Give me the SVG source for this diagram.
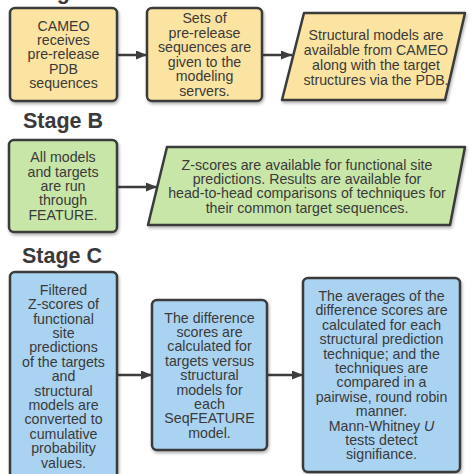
<svg xmlns="http://www.w3.org/2000/svg" width="474" height="474" viewBox="0 0 474 474">
<defs>
<filter id="sh" x="-10%" y="-10%" width="130%" height="130%">
<feDropShadow dx="1" dy="2" stdDeviation="1.5" flood-color="#000" flood-opacity="0.3"/>
</filter>
<marker id="arr" markerUnits="userSpaceOnUse" markerWidth="11" markerHeight="9" refX="11" refY="4.5" orient="auto">
<path d="M0,0 L11,4.5 L0,9 z" fill="#3d3d3d"/>
</marker>
<style>
.box{stroke:#3b3b3b;stroke-width:2.5;stroke-linejoin:round;filter:url(#sh)}
.y{fill:#fbe3a1}
.g{fill:#c8e6a8}
.b{fill:#aad3f1}
.t{font-family:"Liberation Sans",Arial,sans-serif;font-size:14.2px;fill:#3a3a3a;text-anchor:middle}
.h{font-family:"Liberation Sans",Arial,sans-serif;font-size:21.5px;font-weight:bold;fill:#3a3a3a;text-anchor:middle}
.c{stroke:#3d3d3d;stroke-width:2.5;fill:none}
</style>
</defs>
<rect width="474" height="474" fill="#ffffff"/>

<text class="h" x="63" y="-1.5">Stage A</text>
<text class="h" x="63" y="128">Stage B</text>
<text class="h" x="62" y="263">Stage C</text>

<g id="connectors">
<line class="c" x1="117" y1="55" x2="147" y2="55" marker-end="url(#arr)"/>
<line class="c" x1="262" y1="55" x2="292" y2="55" marker-end="url(#arr)"/>
<line class="c" x1="117" y1="187" x2="157" y2="187" marker-end="url(#arr)"/>
<line class="c" x1="117" y1="375" x2="152" y2="375" marker-end="url(#arr)"/>
<line class="c" x1="267" y1="375" x2="303" y2="375" marker-end="url(#arr)"/>
</g>

<g id="a1">
<rect class="box y" x="10" y="8" width="107" height="93" rx="5"/>
<text class="t"><tspan x="63.5" y="30.5">CAMEO</tspan><tspan x="63.5" y="44.9">receives</tspan><tspan x="63.5" y="59.3">pre-release</tspan><tspan x="63.5" y="73.7">PDB</tspan><tspan x="63.5" y="88.1">sequences</tspan></text>
</g>

<g id="a2">
<rect class="box y" x="147" y="8" width="115" height="93" rx="5"/>
<text class="t"><tspan x="204.5" y="23">Sets of</tspan><tspan x="204.5" y="37.6">pre-release</tspan><tspan x="204.5" y="52.2">sequences are</tspan><tspan x="204.5" y="66.8">given to the</tspan><tspan x="204.5" y="81.4">modeling</tspan><tspan x="204.5" y="96">servers.</tspan></text>
</g>

<g id="a3">
<path class="box y" d="M304,13 L465,13 L445,100 L282,100 Z"/>
<text class="t"><tspan x="376" y="40">Structural models are</tspan><tspan x="376" y="55">available from CAMEO</tspan><tspan x="376" y="70">along with the target</tspan><tspan x="376" y="85">structures via the PDB.</tspan></text>
</g>

<g id="b1">
<rect class="box g" x="9" y="140" width="108" height="92" rx="5"/>
<text class="t"><tspan x="63" y="162.2">All models</tspan><tspan x="63" y="176.6">and targets</tspan><tspan x="63" y="191">are run</tspan><tspan x="63" y="205.4">through</tspan><tspan x="63" y="219.8">FEATURE.</tspan></text>
</g>

<g id="b2">
<path class="box g" d="M167,147 L465,147 L450,225 L148,225 Z"/>
<text class="t"><tspan x="307" y="169.6">Z-scores are available for functional site</tspan><tspan x="307" y="184">predictions. Results are available for</tspan><tspan x="307" y="198.4">head-to-head comparisons of techniques for</tspan><tspan x="307" y="212.8">their common target sequences.</tspan></text>
</g>

<g id="c1">
<rect class="box b" x="10" y="272" width="107" height="215" rx="5"/>
<text class="t"><tspan x="63.5" y="294.8">Filtered</tspan><tspan x="63.5" y="309.2">Z-scores of</tspan><tspan x="63.5" y="323.6">functional</tspan><tspan x="63.5" y="338">site</tspan><tspan x="63.5" y="352.4">predictions</tspan><tspan x="63.5" y="366.8">of the targets</tspan><tspan x="63.5" y="381.2">and</tspan><tspan x="63.5" y="395.6">structural</tspan><tspan x="63.5" y="410">models are</tspan><tspan x="63.5" y="424.4">converted to</tspan><tspan x="63.5" y="438.8">cumulative</tspan><tspan x="63.5" y="453.2">probability</tspan><tspan x="63.5" y="467.6">values.</tspan></text>
</g>

<g id="c2">
<rect class="box b" x="152" y="300" width="115" height="150" rx="5"/>
<text class="t"><tspan x="209.5" y="322.5">The difference</tspan><tspan x="209.5" y="336.9">scores are</tspan><tspan x="209.5" y="351.3">calculated for</tspan><tspan x="209.5" y="365.7">targets versus</tspan><tspan x="209.5" y="380.1">structural</tspan><tspan x="209.5" y="394.5">models for</tspan><tspan x="209.5" y="408.9">each</tspan><tspan x="209.5" y="423.3">SeqFEATURE</tspan><tspan x="209.5" y="437.7">model.</tspan></text>
</g>

<g id="c3">
<rect class="box b" x="303" y="278" width="157" height="194" rx="5"/>
<text class="t"><tspan x="381.5" y="301">The averages of the</tspan><tspan x="381.5" y="315.4">difference scores are</tspan><tspan x="381.5" y="329.8">calculated for each</tspan><tspan x="381.5" y="344.2">structural prediction</tspan><tspan x="381.5" y="358.6">technique; and the</tspan><tspan x="381.5" y="373">techniques are</tspan><tspan x="381.5" y="387.4">compared in a</tspan><tspan x="381.5" y="401.8">pairwise, round robin</tspan><tspan x="381.5" y="416.2">manner.</tspan><tspan x="381.5" y="430.6">Mann-Whitney <tspan font-style="italic">U</tspan></tspan><tspan x="381.5" y="445">tests detect</tspan><tspan x="381.5" y="459.4">signifiance.</tspan></text>
</g>
</svg>
